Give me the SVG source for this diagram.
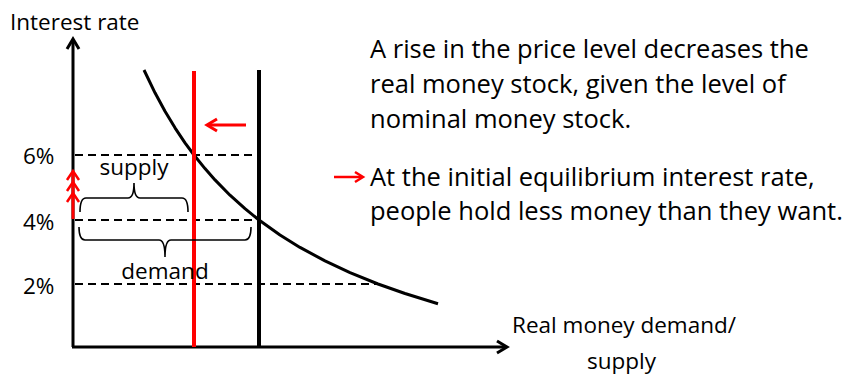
<svg xmlns="http://www.w3.org/2000/svg" width="848" height="376" viewBox="0 0 848 376">
<style>
.t{font-family:"Open Sans","Liberation Sans",sans-serif;fill:#000}
.lbl{font-size:22.5px}
.txt{font-size:25.5px}
.ax{stroke:#000;stroke-width:3;fill:none}
.dash{stroke:#000;stroke-width:2;stroke-dasharray:8 5;fill:none}
.br{stroke:#000;stroke-width:1.6;fill:none}
.red{stroke:#f00;fill:none}
</style>
<rect width="848" height="376" fill="#fff"/>
<g id="connectors">
<g id="y-axis"><line class="ax" x1="73" y1="347" x2="73" y2="40"/><polyline class="ax" points="67,49 73,39 79,49"/></g>
<g id="x-axis"><line class="ax" x1="72" y1="347" x2="506" y2="347"/><polyline class="ax" points="497,341 507,347 497,353"/></g>
<g id="dashes">
<line class="dash" x1="75" y1="155" x2="255" y2="155"/>
<line class="dash" x1="75" y1="220" x2="255" y2="220"/>
<line class="dash" x1="75" y1="284" x2="380" y2="284"/>
</g>
<polyline id="demand-curve" fill="none" stroke="#000" stroke-width="3" stroke-linejoin="round" points="144,70 155,92.8 165,111.3 175,127.8 185,142.8 194,155 205,168.6 215,179.9 230,195.2 245,208.7 259,220 280,235 300,247.4 325,260.9 350,272.6 378,284 405,293.5 438,303.7"/>
<line id="supply-old" x1="259" y1="70" x2="259" y2="347" stroke="#000" stroke-width="4"/>
<line id="supply-new" x1="194" y1="71" x2="194" y2="347" stroke="#f00" stroke-width="4"/>
<g id="shift-arrow"><line class="red" stroke-width="3" x1="246" y1="125" x2="208" y2="125"/><polyline class="red" stroke-width="3" points="217,119 207,125 217,131"/></g>
<g id="rate-arrows">
<line class="red" stroke-width="3" x1="73" y1="219" x2="73" y2="172"/>
<polyline class="red" stroke-width="2.5" points="67,180 73,171 79,180"/>
<polyline class="red" stroke-width="2.5" points="67,191 73,182 79,191"/>
<polyline class="red" stroke-width="2.5" points="67,202 73,193 79,202"/>
</g>
<g id="text-arrow"><line class="red" stroke-width="2.5" x1="334" y1="177" x2="362" y2="177"/><polyline class="red" stroke-width="2.5" points="355,172 363,177 355,182"/></g>
</g>
<g id="supply-brace"><path class="br" d="M80,212 Q80,198 86,198 L128,198 Q134,198 134,183 Q134,198 140,198 L182,198 Q188,198 188,212"/><text class="t lbl" x="134" y="175" text-anchor="middle">supply</text></g>
<g id="demand-brace"><path class="br" d="M79,227 Q79,240 85,240 L159,240 Q165,240 165,257 Q165,240 171,240 L245,240 Q251,240 251,227"/><text class="t lbl" x="165" y="279" text-anchor="middle">demand</text></g>
<g id="labels">
<text class="t lbl" x="10" y="30">Interest rate</text>
<text class="t lbl" x="23" y="164">6%</text>
<text class="t lbl" x="23" y="230">4%</text>
<text class="t lbl" x="23" y="294">2%</text>
<text class="t lbl" x="512" y="333">Real money demand/</text>
<text class="t lbl" x="587" y="369">supply</text>
</g>
<g id="notes">
<text class="t txt" x="370" y="58">A rise in the price level decreases the</text>
<text class="t txt" x="370" y="93">real money stock, given the level of</text>
<text class="t txt" x="370" y="128">nominal money stock.</text>
<text class="t txt" x="370" y="186">At the initial equilibrium interest rate,</text>
<text class="t txt" x="370" y="220">people hold less money than they want.</text>
</g>
</svg>
